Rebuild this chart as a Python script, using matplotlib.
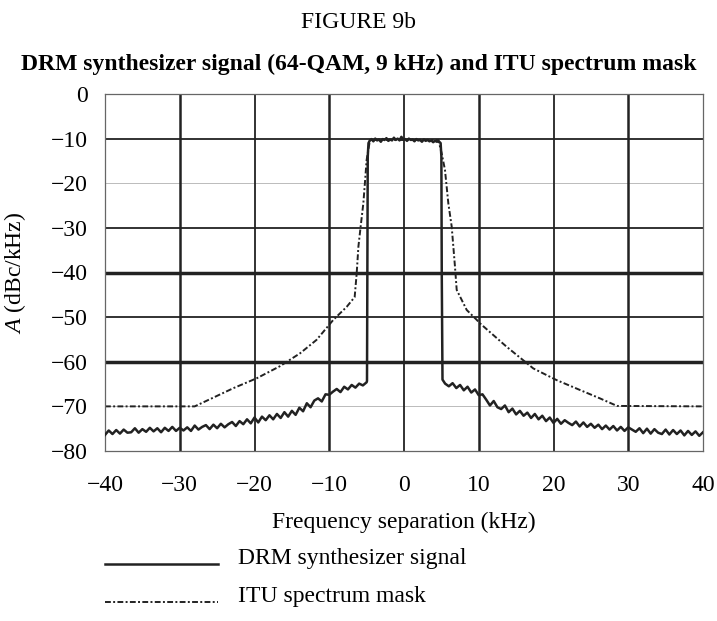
import numpy as np
import matplotlib
matplotlib.use("Agg")
import matplotlib.pyplot as plt
from matplotlib.lines import Line2D

plt.rcParams['font.family'] = ['Liberation Serif', 'DejaVu Serif']
plt.rcParams['mathtext.fontset'] = 'custom'
plt.rcParams['mathtext.rm'] = 'Liberation Serif'
plt.rcParams['mathtext.it'] = 'Liberation Serif:italic'

# DRM synthesizer spectrum, dBc/kHz
# lower skirt, -40 .. -5 kHz in 0.5 kHz steps
sig_left_db = [-76.4, -75.4, -76.2, -75.3, -76.1, -75.2, -75.9, -75.8, -74.9, -75.9,
               -75.1, -75.7, -74.8, -75.6, -74.9, -75.8, -74.8, -75.5, -74.6, -75.5,
               -74.8, -75.4, -74.7, -75.5, -74.3, -75.2, -74.6, -74.2, -75.1, -74.1,
               -74.9, -73.9, -74.7, -74.0, -73.5, -74.4, -73.3, -74.0, -72.9, -73.8,
               -72.5, -73.6, -72.3, -73.1, -72.0, -72.9, -71.7, -72.6, -71.3, -72.3,
               -71.0, -71.9, -70.3, -71.1, -69.3, -70.2, -68.7, -68.2, -68.9, -67.3,
               -67.4, -66.7, -66.1, -66.8, -65.6, -66.2, -65.2, -65.8, -64.9, -65.3,
               -64.6]
# rising edge
edge_left_khz = [-4.95, -4.9, -4.85, -4.75]
edge_left_db = [-64.3, -40.0, -14.0, -11.0]
# flat top, -4.6 kHz upward in 0.25 kHz steps
sig_top_db = [-10.5, -10.1, -10.6, -10.0, -10.4, -10.2, -10.7, -10.1, -10.3, -9.9,
              -10.5, -10.2, -10.4, -9.8, -10.3, -10.0, -10.4, -9.6, -10.2, -10.1,
              -10.5, -10.0, -10.3, -10.2, -10.6, -10.1, -10.4, -10.3, -10.7, -10.2,
              -10.5, -10.3, -10.6, -10.4, -10.8, -10.5, -10.7, -10.6]
# falling edge
edge_right_khz = [4.9, 5.0, 5.05, 5.15, 5.3]
edge_right_db = [-11.0, -14.0, -40.0, -64.0, -64.4]
# upper skirt, 5.5 .. 40 kHz in 0.5 kHz steps
sig_right_db = [-64.9, -65.5, -64.8, -65.9, -65.2, -66.4, -65.6, -66.9, -66.2, -67.5,
                -67.3, -68.5, -69.8, -68.8, -70.2, -70.6, -69.8, -71.3, -70.5, -71.8,
                -71.0, -72.1, -71.4, -72.6, -71.7, -72.9, -72.1, -73.3, -72.5, -73.7,
                -72.8, -73.9, -73.1, -73.7, -74.2, -73.4, -74.5, -73.6, -74.6, -73.9,
                -74.8, -74.1, -75.1, -74.3, -75.2, -74.4, -75.4, -74.6, -75.5, -74.7,
                -75.2, -75.7, -74.9, -76.0, -75.0, -76.1, -75.1, -75.9, -76.2, -75.2,
                -76.3, -75.3, -76.2, -75.4, -76.5, -75.5, -76.4, -75.6, -76.6, -75.8]

# ITU spectrum mask
mask_khz = [-40, -28.0, -22.8, -19.7, -16.6, -13.9, -11.7, -9.45, -7.67, -6.6, -6.33,
            -6.1, -5.8, -5.44, -5.2, -5.0, -4.55, 0, 4.6, 5.04, 5.48, 5.93, 6.38, 6.82,
            7.05, 8.39, 9.72, 10.17, 13.7, 17.3, 20.4, 23.5, 26.2, 28.5, 40]
mask_db = [-70, -70, -65.9, -63.7, -61.0, -58.1, -55.1, -50.6, -47.7, -45.5, -40.2,
           -34.2, -29.7, -24.5, -19.3, -14.8, -10.3, -10.3, -10.3, -13.3, -17.0, -24.5,
           -29.7, -38.7, -43.9, -48.4, -50.6, -51.4, -56.6, -61.5, -64.1, -66.3, -68.2,
           -69.9, -70]

xticks = [-40, -30, -20, -10, 0, 10, 20, 30, 40]
yticks = [0, -10, -20, -30, -40, -50, -60, -70, -80]

sig_khz = np.concatenate([
    -40 + 0.5 * np.arange(len(sig_left_db)),
    edge_left_khz,
    -4.6 + 0.25 * np.arange(len(sig_top_db)),
    edge_right_khz,
    5.5 + 0.5 * np.arange(len(sig_right_db)),
])
sig_db = np.concatenate([sig_left_db, edge_left_db, sig_top_db, edge_right_db, sig_right_db])

W, H = 717, 621
fig = plt.figure(figsize=(W / 100, H / 100), dpi=100)
ax = fig.add_axes([105 / W, 1 - 451 / H, 598 / W, 357 / H])

# grid: mixed weights
dark = '#222222'
hgrid = {-10: (1.3, dark), -20: (0.7, '#bbbbbb'), -30: (1.3, dark), -40: (2.5, dark),
         -50: (1.3, dark), -60: (2.5, dark), -70: (0.7, '#bbbbbb')}
vgrid = {-30: (1.8, dark), -20: (1.3, dark), -10: (1.8, dark), 0: (1.3, dark),
         10: (1.8, dark), 20: (1.3, dark), 30: (1.8, dark)}
for y, (lw, c) in hgrid.items():
    ax.axhline(y, lw=lw, color=c, zorder=1)
for x, (lw, c) in vgrid.items():
    ax.axvline(x, lw=lw, color=c, zorder=1)

mask_style = dict(color=dark, lw=1.4, dashes=(3, 1.2, 1, 1.2))
sig_style = dict(color=dark, lw=1.8)
ax.plot(mask_khz, mask_db, zorder=2, **mask_style)
ax.plot(sig_khz, sig_db, zorder=3, **sig_style)

ax.set_xlim(-40, 40)
ax.set_ylim(-80, 0)
ax.set_xticks(xticks)
ax.set_yticks(yticks)
ax.set_xticklabels([str(t).replace('-', '\u2212') for t in xticks])
ax.set_yticklabels([str(t).replace('-', '\u2212') for t in yticks])
ax.tick_params(length=0, labelsize=17)
ax.tick_params(axis='x', pad=17)
ax.tick_params(axis='y', pad=12.5)
for s in ax.spines.values():
    s.set_color('#666666')
    s.set_linewidth(0.9)

ax.set_xlabel('Frequency separation (kHz)', fontsize=17, labelpad=12)
ax.set_ylabel(r'$A$ (dBc/kHz)', fontsize=17, labelpad=16)

fig.text(0.5, 1 - 22 / H, 'FIGURE 9b', ha='center', va='center', fontsize=17)
fig.text(0.5, 1 - 64 / H, 'DRM synthesizer signal (64-QAM, 9 kHz) and ITU spectrum mask',
         ha='center', va='center', fontsize=17, fontweight='bold')

# legend: sample line sits on the text baseline
for yb, style, label in [(564, sig_style, 'DRM synthesizer signal'),
                         (602, mask_style, 'ITU spectrum mask')]:
    fy = 1 - yb / H
    fig.add_artist(Line2D([105 / W, 218 / W], [fy, fy], transform=fig.transFigure, **style))
    fig.text(238 / W, fy, label, ha='left', va='baseline', fontsize=17)

fig.savefig('out.png', dpi=100)
